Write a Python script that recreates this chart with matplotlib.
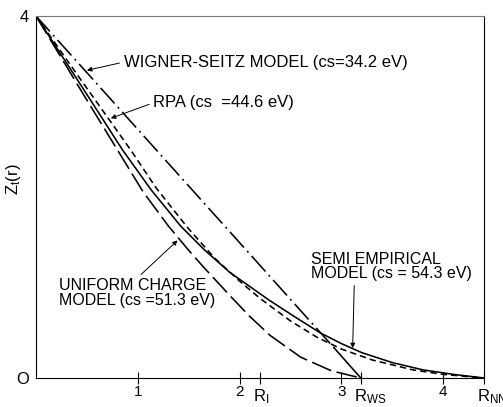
import matplotlib
matplotlib.use('Agg')
import matplotlib.pyplot as plt

plt.rcParams['font.family'] = ['Liberation Sans', 'DejaVu Sans']
plt.rcParams['mathtext.default'] = 'regular'

# --- data: Z_t(r) for four models ---
# Wigner-Seitz model (dash-dot, last short piece solid)
ws_r = [0.0, 2.93, 3.19]
ws_z = [4.0, 0.33, 0.0]

# RPA (short dashes)
rpa_r = [0, 0.45, 0.93, 1.18, 1.49, 1.75, 2.0, 2.2, 2.5, 2.76, 3.0, 3.3, 3.7, 4.0, 4.4]
rpa_z = [4.0, 3.28, 2.52, 2.10, 1.66, 1.33, 1.07, 0.88, 0.63, 0.45, 0.32, 0.20, 0.09, 0.04, 0.0]

# uniform charge model (long dashes)
uni_r = [0, 0.5, 0.8, 1.05, 1.3, 1.5, 1.65, 1.93, 2.1, 2.3, 2.6, 2.9, 3.19]
uni_z = [4.0, 3.07, 2.52, 2.06, 1.68, 1.41, 1.22, 0.88, 0.68, 0.47, 0.23, 0.08, 0.0]

# semi empirical model (solid)
semi_r = [0, 0.45, 0.85, 1.13, 1.42, 1.65, 1.9, 2.29, 2.55, 2.79, 3.0, 3.2, 3.5, 3.8, 4.1, 4.4]
semi_z = [4.0, 3.22, 2.52, 2.08, 1.68, 1.42, 1.17, 0.86, 0.67, 0.50, 0.38, 0.28, 0.17, 0.09, 0.04, 0.0]

num_ticks = [1, 2, 3, 4]
r_ticks = [2.2, 3.19, 4.4]
r_labels = ['R$_I$', 'R$_{WS}$', 'R$_{NN}$']

# --- figure ---
fig = plt.figure(figsize=(5.03, 4.07), dpi=100)
ax = fig.add_axes([36 / 503, 1 - 378 / 407, 448 / 503, 362 / 407])

lw = 1.15
ax.plot(ws_r[:2], ws_z[:2], color='black', lw=lw, linestyle=(0, (13, 3, 1.2, 3)))
ax.plot(ws_r[1:], ws_z[1:], color='black', lw=lw)
ax.plot(rpa_r, rpa_z, color='black', lw=lw, linestyle=(0, (4, 2.5)))
ax.plot(uni_r, uni_z, color='black', lw=lw, linestyle=(0, (13, 3.5)))
ax.plot(semi_r, semi_z, color='black', lw=lw)

ax.set_xlim(0, 4.4)
ax.set_ylim(0, 4)
for s in ax.spines.values():
    s.set_linewidth(0.8)
ax.spines['top'].set_color('#777777')

ax.set_xticks(num_ticks + r_ticks)
ax.set_xticklabels([str(t) for t in num_ticks] + [''] * len(r_ticks), fontsize=11)
ax.tick_params(axis='x', direction='inout', length=8, width=0.8, pad=1)
ax.set_yticks([0, 4])
ax.set_yticklabels(['O', '4'], fontsize=12)
ax.tick_params(axis='y', length=0, pad=5)

for t, lab in zip(r_ticks, r_labels):
    ax.text(t - 0.07, -0.21, lab, fontsize=12, ha='left', va='center')

ax.set_ylabel('Z$_t$(r)', fontsize=12)
ax.yaxis.set_label_coords(-0.028, 0.55)

arrow = dict(arrowstyle='-|>', color='black', lw=0.7, mutation_scale=7, shrinkA=1, shrinkB=0)
ax.annotate('WIGNER-SEITZ MODEL (cs=34.2 eV)', xy=(0.5, 3.40), xytext=(0.86, 3.49),
            fontsize=12, ha='left', va='center', arrowprops=dict(arrow, relpos=(0, 0.5)))
ax.annotate('RPA (cs  =44.6 eV)', xy=(0.735, 2.87), xytext=(1.15, 3.04),
            fontsize=12, ha='left', va='center', arrowprops=dict(arrow, relpos=(0, 0.5)))
ax.annotate('UNIFORM CHARGE\nMODEL (cs =51.3 eV)', xy=(1.39, 1.52), xytext=(0.225, 0.94),
            fontsize=11.5, ha='left', va='center', linespacing=0.95,
            arrowprops=dict(arrow, relpos=(0.5, 1)))
ax.annotate('SEMI EMPIRICAL\nMODEL (cs = 54.3 eV)', xy=(3.11, 0.33), xytext=(2.70, 1.23),
            fontsize=11.5, ha='left', va='center', linespacing=0.95,
            arrowprops=dict(arrow, relpos=(0.27, 0)))

fig.savefig('out.png', dpi=100)
